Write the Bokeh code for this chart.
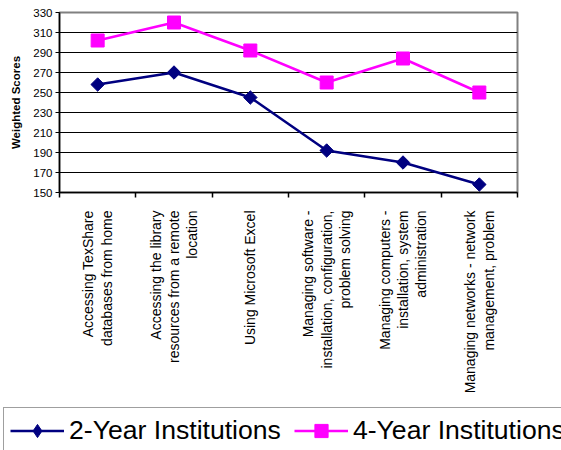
import math
from bokeh.plotting import figure
from bokeh.layouts import column
from bokeh.models import FixedTicker, Legend, LegendItem, Range1d
from bokeh.embed import file_html
from bokeh.resources import INLINE

categories = [
    "Accessing TexShare\ndatabases from home",
    "Accessing the library\nresources from a remote\nlocation",
    "Using Microsoft Excel",
    "Managing software -\ninstallation, configuration,\nproblem solving",
    "Managing computers -\ninstallation, system\nadministration",
    "Managing networks - network\nmanagement, problem",
]
two_year = [258, 270, 245, 192, 180, 158]
four_year = [302, 320, 292, 260, 284, 250]
y_ticks = [150, 170, 190, 210, 230, 250, 270, 290, 310, 330]
series_names = ["2-Year Institutions", "4-Year Institutions"]

xs = [i + 0.5 for i in range(len(categories))]
bounds = list(range(len(categories) + 1))

FONT = "Liberation Sans"
NAVY = "#000080"
MAGENTA = "#FF00FF"

p = figure(width=561, height=406, x_range=Range1d(0, len(categories)),
           y_range=Range1d(y_ticks[0], y_ticks[-1]),
           output_backend="svg", toolbar_location=None,
           min_border_left=59, min_border_right=44, min_border_top=12,
           min_border_bottom=214)
p.background_fill_color = "white"
p.border_fill_color = "white"
p.outline_line_color = "#808080"
p.outline_line_width = 2

# x axis
p.xaxis.ticker = FixedTicker(ticks=xs, minor_ticks=bounds)
p.xaxis.major_label_overrides = {x: c for x, c in zip(xs, categories)}
p.xaxis.major_label_orientation = math.pi / 2
p.xaxis.major_tick_out = 0
p.xaxis.major_tick_in = 0
p.xaxis.minor_tick_out = 5
p.xaxis.minor_tick_in = 0
p.xaxis.major_label_standoff = 13
p.xaxis.major_label_text_font = FONT
p.xaxis.major_label_text_font_size = "14px"
p.xaxis.major_label_text_line_height = 1.15
p.xaxis.major_label_text_align = "center"
p.xaxis.major_label_text_color = "black"
p.xaxis.axis_line_color = "black"
p.xaxis.axis_line_width = 1.5
p.xaxis.minor_tick_line_color = "black"
p.xaxis.minor_tick_line_width = 1.5

# y axis
p.yaxis.ticker = FixedTicker(ticks=y_ticks)
p.yaxis.major_tick_out = 4
p.yaxis.major_tick_in = 0
p.yaxis.minor_tick_out = 0
p.yaxis.minor_tick_in = 0
p.yaxis.major_label_standoff = 3
p.yaxis.major_label_text_font = FONT
p.yaxis.major_label_text_font_size = "11.5px"
p.yaxis.major_label_text_color = "black"
p.yaxis.axis_label = "Weighted Scores"
p.yaxis.axis_label_text_font = FONT
p.yaxis.axis_label_text_font_size = "11.5px"
p.yaxis.axis_label_text_font_style = "bold"
p.yaxis.axis_label_text_color = "black"
p.yaxis.axis_label_standoff = 8
p.yaxis.axis_line_color = "black"
p.yaxis.axis_line_width = 1.5
p.yaxis.major_tick_line_color = "black"

p.xgrid.grid_line_color = None
p.ygrid.ticker = FixedTicker(ticks=y_ticks)
p.ygrid.grid_line_color = "black"
p.ygrid.grid_line_width = 1

p.line(xs, two_year, line_color=NAVY, line_width=2.5)
p.scatter(xs, two_year, marker="square", angle=math.pi / 4, size=9.5,
          fill_color=NAVY, line_color=NAVY)
p.line(xs, four_year, line_color=MAGENTA, line_width=2.5)
p.scatter(xs, four_year, marker="square", size=13,
          fill_color=MAGENTA, line_color=MAGENTA)

# legend strip (separate figure so the legend box is not clipped by the plot frame)
lf = figure(width=561, height=44, x_range=Range1d(-100, -99), y_range=Range1d(-100, -99),
            output_backend="svg", toolbar_location=None,
            min_border_left=0, min_border_right=0, min_border_top=0, min_border_bottom=0)
lf.axis.visible = False
lf.grid.visible = False
lf.outline_line_color = None
lf.background_fill_color = "white"
lf.border_fill_color = "white"
for fig in (p, lf):
    if "frame_align" in fig.properties():
        fig.frame_align = False
la = lf.line(xs, two_year, line_color=NAVY, line_width=2.5)
lb = lf.scatter(xs, two_year, marker="diamond", size=13, fill_color=NAVY, line_color=NAVY)
lc = lf.line(xs, four_year, line_color=MAGENTA, line_width=2.5)
ld = lf.scatter(xs, four_year, marker="square", size=13, fill_color=MAGENTA, line_color=MAGENTA)

legend = Legend(items=[LegendItem(label=series_names[0], renderers=[la, lb]),
                       LegendItem(label=series_names[1], renderers=[lc, ld])],
                orientation="horizontal", location=(3, -4))
legend.label_text_font = FONT
legend.label_text_font_size = "26.6px"
legend.label_text_color = "black"
legend.glyph_width = 54
legend.glyph_height = 33
legend.label_height = 33
legend.label_standoff = 5
legend.spacing = 13
legend.padding = 6
legend.margin = 0
legend.border_line_color = "#404040"
legend.border_line_width = 1
legend.background_fill_color = "white"
legend.background_fill_alpha = 1
lf.add_layout(legend)

open("out.html", "w").write(file_html(column(p, lf, spacing=0), INLINE))
